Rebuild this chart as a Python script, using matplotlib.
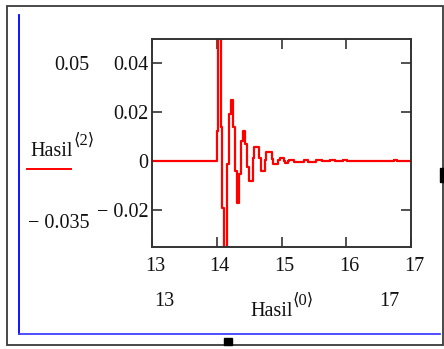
import matplotlib
matplotlib.use("Agg")
import matplotlib.pyplot as plt
from matplotlib.lines import Line2D
from matplotlib.patches import Rectangle
from matplotlib.transforms import ScaledTranslation

# Hasil<0> (time) and Hasil<2> (response)
hasil0 = [13.0, 13.999, 14.015, 14.061, 14.076, 14.112, 14.163, 14.194, 14.22,
          14.256, 14.282, 14.308, 14.349, 14.375, 14.40, 14.436, 14.472, 14.503,
          14.555, 14.575, 14.66, 14.68, 14.74, 14.76, 14.86, 14.875, 14.95,
          14.97, 15.04, 15.06, 15.10, 15.11, 15.19, 15.34, 15.41, 15.54, 15.62,
          15.75, 15.83, 15.95, 16.01, 16.74, 16.78, 17.0]
hasil2 = [0.0, 0.0126, 0.065, 0.014, -0.019, -0.05, -0.001, 0.0194, 0.025,
          0.014, -0.0039, -0.0169, -0.0052, 0.0085, 0.0126, 0.0071, -0.0025, -0.008,
          0.0015, 0.0058, 0.0012, -0.0039, 0.0005, 0.0037, 0.0008, -0.0011, 0.0004,
          0.0012, 0.0, -0.0007, 0.0, 0.0007, -0.0002, 0.0005, -0.0001, 0.0005, 0.0,
          0.0006, 0.0, 0.0006, 0.0, 0.0006, 0.0, 0.0]

xticks = [13, 14, 15, 16, 17]
yticks = [-0.02, 0, 0.02, 0.04]
ytick_labels = ["\u2212 0.02", "0", "0.02", "0.04"]
x_min, x_max = 13, 17
y_min, y_max = -0.035, 0.05

W, H = 444, 349
SERIF = ["Liberation Serif", "DejaVu Serif", "DejaVu Sans"]
FS = 14.5
INK = "#111111"


def fx(px):
    return px / W


def fy(py):
    return 1 - py / H


def main():
    fig = plt.figure(figsize=(W / 100, H / 100), dpi=100)
    fig.patch.set_facecolor("white")

    # outer frame, blue region lines and resize handles
    fig.add_artist(Rectangle((fx(7), fy(345)), fx(436), (345 - 6) / H,
                             transform=fig.transFigure, fill=False,
                             edgecolor="#3a3a3a", lw=1.3))
    fig.add_artist(Line2D([fx(19), fx(19)], [fy(15), fy(334)],
                          transform=fig.transFigure, color="#0000ff", lw=1.3))
    fig.add_artist(Line2D([fx(19), fx(440)], [fy(334), fy(334)],
                          transform=fig.transFigure, color="#4040ff", lw=1.3))
    fig.add_artist(Rectangle((fx(224), fy(345)), fx(8), 7 / H,
                             transform=fig.transFigure, color="black"))
    fig.add_artist(Rectangle((fx(440), fy(182)), fx(4), 14 / H,
                             transform=fig.transFigure, color="black"))

    ax = fig.add_axes([fx(152), fy(247), fx(411 - 152), (247 - 39) / H])
    ax.plot(hasil0, hasil2, color="#ff0000", lw=1.6, drawstyle="steps-post")
    ax.set_xlim(x_min, x_max)
    ax.set_ylim(y_min, y_max)

    ax.set_xticks(xticks)
    ax.set_xticklabels([str(v) for v in xticks])
    ax.set_yticks(yticks)
    ax.set_yticklabels(ytick_labels)
    ax.tick_params(direction="in", length=7.2, width=1.2, color="#333333",
                   top=True, right=True, labelsize=FS, labelcolor=INK)
    ax.tick_params(axis="x", pad=7.5)
    ax.tick_params(axis="y", pad=2.5)
    shift = ScaledTranslation(3 / 100, 0, fig.dpi_scale_trans)
    for lab in ax.get_xticklabels():
        lab.set_transform(lab.get_transform() + shift)
    for lab in ax.get_xticklabels() + ax.get_yticklabels():
        lab.set_family(SERIF)
    for s in ax.spines.values():
        s.set_linewidth(1.4)
        s.set_color("#333333")

    # Mathcad range labels and axis names
    txt = dict(transform=fig.transFigure, fontsize=FS, color=INK, family=SERIF)
    fig.text(fx(89), fy(65.5), "0.05", ha="right", va="center", **txt)
    fig.text(fx(89), fy(223), "\u2212 0.035", ha="right", va="center", **txt)
    fig.text(fx(164.5), fy(301), "13", ha="center", va="center", **txt)
    fig.text(fx(389.5), fy(301), "17", ha="center", va="center", **txt)

    fig.text(fx(30.5), fy(156.5), "Hasil", ha="left", va="baseline", **txt)
    fig.text(fx(73.5), fy(145), "\u27e82\u27e9", ha="left", va="baseline",
             transform=fig.transFigure, fontsize=12, color=INK, family=SERIF)
    fig.add_artist(Line2D([fx(27), fx(71)], [fy(169), fy(169)],
                          transform=fig.transFigure, color="#ff0000", lw=1.4))

    fig.text(fx(250), fy(316), "Hasil", ha="left", va="baseline", **txt)
    fig.text(fx(293), fy(304.5), "\u27e80\u27e9", ha="left", va="baseline",
             transform=fig.transFigure, fontsize=12, color=INK, family=SERIF)

    fig.savefig("out.png", dpi=100)
    plt.close(fig)


if __name__ == "__main__":
    main()
